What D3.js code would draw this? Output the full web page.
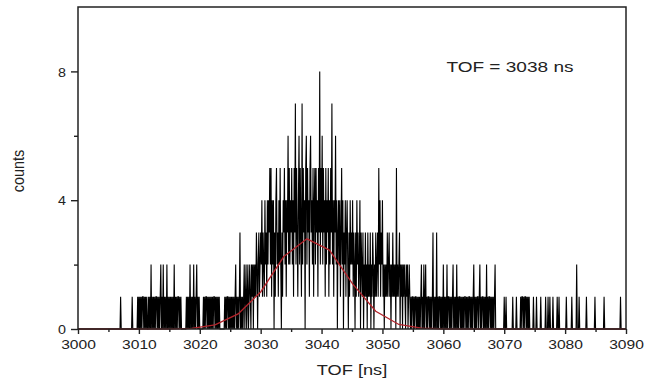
<!DOCTYPE html>
<html>
<head>
<meta charset="utf-8">
<script src="https://cdn.jsdelivr.net/npm/d3@7"></script>
<style>
  body { margin: 0; background: #fff; }
  svg { display: block; font-family: "Liberation Sans", Arial, Helvetica, sans-serif; }
</style>
</head>
<body>
<svg></svg>
<script>
// histogram: one digit per 0.1 ns bin, one row per 5 ns, starting at 3000 ns
const tofStart = 3000;
const binWidth = 0.1;
const countRows = [
  "0000000000 0000000000 0000000000 0000000000 0000000000", // 3000
  "0000000000 0000000000 1000000000 0000000001 0000000010", // 3005
  "1010101101 0101001010 2010101011 0101012010 2010102010", // 3010
  "1010101020 1010110101 0000000010 1010201010 2010120101", // 3015
  "0000001010 1101010101 0101101010 1010000000 0101011010", // 3020
  "1010101012 0101013010 1012012012 0121021202 1213202312", // 3025
  "3241321423 1424352514 2403145231 4252031435 2414362524", // 3030
  "3524153725 3146253172 5340562534 1563425145 2534153825", // 3035
  "3625341524 3514253724 1436240342 4135240324 1342031423", // 3040
  "2413203142 3124032130 2131203121 3021320213 1231524132", // 3045
  "4120212131 2312021312 1205121230 2120212102 1201210101", // 3050
  "1010110101 0101201020 1201011010 1013010103 0101101010", // 3055
  "2010102011 0101012010 1020101101 0101011010 1011010101", // 3060
  "2010101101 2010110101 0201011010 1010120000 0000000000", // 3065
  "1001000000 0000100000 1000000101 1010110101 0100000010", // 3070
  "0001000000 1000000010 0010010000 1000000100 1000000000", // 3075
  "0010000000 0100000002 0001000000 0000010000 0000000001", // 3080
  "0000000000 0000100000 0000000000 0000000000 0100000000"  // 3085
];

// gaussian fit curve
const fitTof    = [3000, 3015, 3018.7, 3022.5, 3026.3, 3030.0, 3033.8, 3037.6, 3041.3, 3045.1, 3048.9, 3052.7, 3056.4, 3060.2, 3090];
const fitCounts = [0,    0,    0.02,   0.13,   0.47,   1.15,   2.25,   2.8,    2.45,   1.4,    0.55,   0.14,   0.03,   0,      0];

const xMajor = [3000, 3010, 3020, 3030, 3040, 3050, 3060, 3070, 3080, 3090];
const xMinor = [3005, 3015, 3025, 3035, 3045, 3055, 3065, 3075, 3085];
const yMajor = [0, 4, 8];
const yMinor = [2, 6];

const x_label = "TOF [ns]";
const y_label = "counts";
const note = "TOF = 3038 ns";

const width = 654, height = 383;
const margin = { left: 78, right: 28, top: 7, bottom: 54 };
const stretch = 1.3; // the original picture is widened

const svg = d3.select("svg").attr("width", width).attr("height", height);

const x_scale = d3.scaleLinear().domain([3000, 3090]).range([margin.left, width - margin.right]);
const y_scale = d3.scaleLinear().domain([0, 10]).range([height - margin.bottom, margin.top]);

const counts = countRows.join("").replace(/ /g, "").split("").map(Number);
const hist = counts.map((c, i) => ({ t: tofStart + i * binWidth, c: c }));
const fit = fitTof.map((t, i) => ({ t: t, c: fitCounts[i] }));

const line_generator = d3.line()
  .x(d => x_scale(d.t))
  .y(d => y_scale(d.c));

svg.append("path")
  .attr("fill", "none")
  .attr("stroke", "#000")
  .attr("stroke-width", 1.1)
  .attr("d", line_generator(hist));

svg.append("path")
  .attr("fill", "none")
  .attr("stroke", "#b3232a")
  .attr("stroke-width", 1.3)
  .attr("d", line_generator(fit));

// axes
const xAxisY = height - margin.bottom;
const x_axis = svg.append("g")
  .attr("transform", `translate(0,${xAxisY})`)
  .call(d3.axisBottom(x_scale).tickValues(xMajor).tickSize(5).tickPadding(6).tickFormat(d3.format("d")));
svg.append("g")
  .attr("transform", `translate(0,${xAxisY})`)
  .call(d3.axisBottom(x_scale).tickValues(xMinor).tickSize(3).tickFormat(""));

const y_axis = svg.append("g")
  .attr("transform", `translate(${margin.left},0)`)
  .call(d3.axisLeft(y_scale).tickValues(yMajor).tickSize(7).tickPadding(4));
svg.append("g")
  .attr("transform", `translate(${margin.left},0)`)
  .call(d3.axisLeft(y_scale).tickValues(yMinor).tickSize(4).tickFormat(""));

svg.selectAll(".domain").remove();
svg.selectAll(".tick line").attr("stroke", "#222").attr("stroke-width", 1.4);

x_axis.selectAll("text")
  .style("font-size", "12px")
  .attr("fill", "#222")
  .attr("transform", `scale(${stretch},1)`);
y_axis.selectAll("text")
  .style("font-size", "13px")
  .attr("fill", "#222")
  .attr("dy", "0.36em")
  .attr("transform", "scale(1.1,1)");

// frame
svg.append("rect")
  .attr("x", margin.left)
  .attr("y", margin.top)
  .attr("width", width - margin.left - margin.right)
  .attr("height", height - margin.top - margin.bottom)
  .attr("fill", "none")
  .attr("stroke", "#222")
  .attr("stroke-width", 1.5);

// labels
svg.append("text")
  .attr("transform", `translate(${(margin.left + width - margin.right) / 2},375) scale(${stretch},1)`)
  .attr("text-anchor", "middle")
  .style("font-size", "14px")
  .attr("fill", "#222")
  .text(x_label);

svg.append("text")
  .attr("transform", "translate(24,171) rotate(-90) scale(1,1.2)")
  .attr("text-anchor", "middle")
  .style("font-size", "14.5px")
  .attr("fill", "#222")
  .text(y_label);

svg.append("text")
  .attr("transform", `translate(${x_scale(3060.5)},72) scale(1.27,1)`)
  .style("font-size", "15px")
  .attr("fill", "#222")
  .text(note);
</script>
</body>
</html>
